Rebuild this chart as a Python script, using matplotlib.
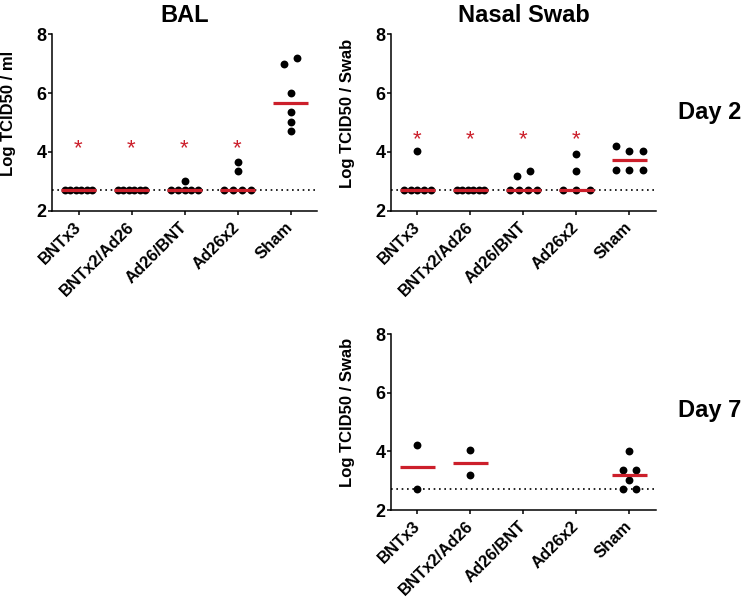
import numpy as np
from matplotlib import pyplot as plt

plt.rcParams['font.family'] = ['Liberation Sans', 'DejaVu Sans']
plt.rcParams['font.weight'] = 'bold'
plt.rcParams['axes.labelweight'] = 'bold'
plt.rcParams['axes.titleweight'] = 'bold'

groups = ['BNTx3', 'BNTx2/Ad26', 'Ad26/BNT', 'Ad26x2', 'Sham']
lod = 2.7

bal_d2 = [
    [2.7, 2.7, 2.7, 2.7, 2.7, 2.7],
    [2.7, 2.7, 2.7, 2.7, 2.7, 2.7],
    [2.7, 2.7, 2.7, 2.7, 2.7, 3.0],
    [2.7, 2.7, 2.7, 2.7, 3.35, 3.65],
    [4.7, 5.0, 5.35, 6.0, 7.0, 7.2],
]
nasal_d2 = [
    [2.7, 2.7, 2.7, 2.7, 2.7, 4.03],
    [2.7, 2.7, 2.7, 2.7, 2.7, 2.7],
    [2.7, 2.7, 2.7, 2.7, 3.2, 3.37],
    [2.7, 2.7, 2.7, 3.37, 3.92],
    [3.39, 3.39, 3.39, 4.2, 4.04, 4.04],
]
nasal_d7 = [
    [2.7, 4.2],
    [3.2, 4.03],
    [],
    [],
    [2.7, 2.7, 3.02, 3.36, 3.36, 4.02],
]
sig_d2 = [True, True, True, True, False]
star_bal = 4.3
star_nasal = 4.6

red = '#cc1f2b'


def swarm(vals, gap=0.25, step=0.255, span=0.51):
    # points closer than `gap` share a row and get spread sideways
    v = np.asarray(vals, float)
    order = np.argsort(v, kind='stable')
    offs = np.zeros(len(v))
    start = 0
    for i in range(1, len(v) + 1):
        if i == len(v) or v[order[i]] - v[order[i - 1]] >= gap:
            n = i - start
            w = min(step * (n - 1), span)
            members = np.sort(order[start:i])
            offs[members] = np.linspace(-w / 2, w / 2, n)
            start = i
    return v, offs


def panel(ax, data, ylabel, title=None, sig=None, star_y=None):
    ax.axhline(lod, color='black', lw=1.2, ls=(0, (1, 2.2)), zorder=1)
    for i, vals in enumerate(data):
        if len(vals) == 0:
            continue
        v, offs = swarm(vals)
        ax.scatter(i + offs, v, s=32, color='black', zorder=3, linewidths=0)
        ax.hlines(np.median(vals), i - 0.33, i + 0.33, color=red, lw=2.3, zorder=4)
        if sig is not None and sig[i]:
            ax.annotate('*', (i, star_y), xytext=(0, -8), textcoords='offset points',
                        ha='center', va='baseline', color=red, fontsize=16,
                        fontweight='normal')
    ax.set_xlim(-0.5, 4.5)
    ax.set_ylim(2, 8)
    ax.set_yticks([2, 4, 6, 8])
    ax.set_xticks(range(len(groups)))
    ax.set_xticklabels(groups, rotation=45, ha='right', va='center',
                       rotation_mode='anchor')
    ax.tick_params(axis='y', length=3, width=1.1, pad=1, labelsize=13)
    ax.tick_params(axis='x', length=3, width=1.1, pad=7, labelsize=12)
    for s in ['top', 'right']:
        ax.spines[s].set_visible(False)
    for s in ['left', 'bottom']:
        ax.spines[s].set_linewidth(1.1)
    ax.set_ylabel(ylabel, fontsize=12)
    ax.yaxis.set_label_coords(-0.136, 0.553)
    if title:
        ax.set_title(title, fontsize=17, pad=9)


fig = plt.figure(figsize=(7.44, 6.03), dpi=100)
ax1 = fig.add_axes([0.0699, 0.6501, 0.3562, 0.2935])
ax2 = fig.add_axes([0.5255, 0.6501, 0.3562, 0.2935])
ax3 = fig.add_axes([0.5255, 0.1542, 0.3562, 0.2919])

panel(ax1, bal_d2, 'Log TCID50 / ml', 'BAL', sig_d2, star_bal)
panel(ax2, nasal_d2, 'Log TCID50 / Swab', 'Nasal Swab', sig_d2, star_nasal)
panel(ax3, nasal_d7, 'Log TCID50 / Swab')

fig.text(678 / 744, 1 - 113 / 603, 'Day 2', fontsize=17, ha='left', va='center')
fig.text(678 / 744, 1 - 411 / 603, 'Day 7', fontsize=17, ha='left', va='center')

fig.savefig('out.png', dpi=100)
